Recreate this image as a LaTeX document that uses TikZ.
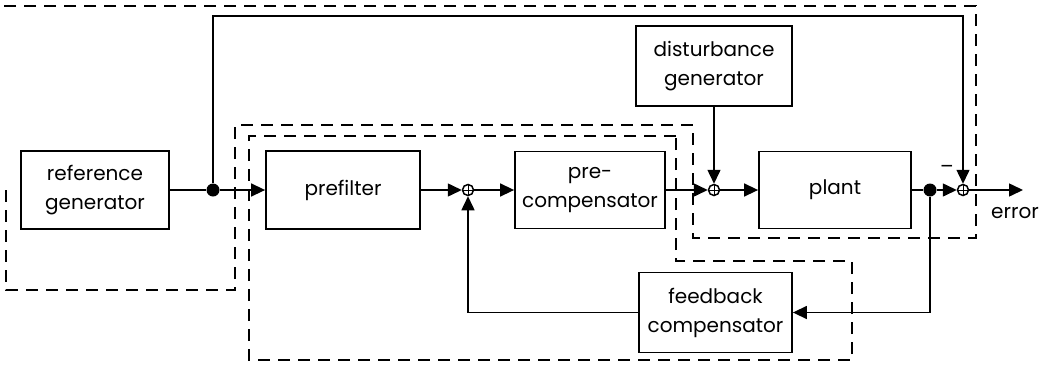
\documentclass[tikz,border=0pt]{standalone}
\usepackage{fontspec}
\setmainfont{Poppins}
\usetikzlibrary{arrows.meta}
\begin{document}
\begin{tikzpicture}[x=1pt,y=-1pt,
  blk/.style={draw,line width=1.8pt,minimum width=#1,align=center,inner sep=0pt,
    font=\fontsize{20}{29}\selectfont},
  blk/.default=150pt,
  sig/.style={line width=1.5pt},
  arr/.style={sig,-{Triangle[length=14pt,width=13pt]}},
  sumj/.style={circle,draw,line width=1.5pt,minimum size=11pt,inner sep=0pt,
    path picture={\draw[line width=1pt] (path picture bounding box.north) -- (path picture bounding box.south)
      (path picture bounding box.west) -- (path picture bounding box.east);}},
  dotj/.style={circle,fill,minimum size=13pt,inner sep=0pt},
  box/.style={dash pattern=on 12pt off 8pt,line width=1.7pt},
  lbl/.style={font=\fontsize{20}{29}\selectfont,inner sep=0pt}
]
\useasboundingbox (0,0) rectangle (1051,367);
% blocks
\node[blk=148pt,minimum height=78pt] (ref) at (95,190) {reference\\generator};
\node[blk=154pt,minimum height=78pt] (pre) at (343,190) {prefilter};
\node[blk=150pt,minimum height=77pt] (pc) at (590,190) {pre-\\compensator};
\node[blk=156pt,minimum height=80pt] (dist) at (714,66) {disturbance\\generator};
\node[blk=152pt,minimum height=77pt] (plant) at (835,190) {plant};
\node[blk=153pt,minimum height=80pt] (fb) at (715.5,312.5) {feedback\\compensator};
% junctions
\node[dotj] (d1) at (213,190) {};
\node[sumj] (s1) at (468,190) {};
\node[sumj] (s2) at (714,190) {};
\node[dotj] (d2) at (930,190) {};
\node[sumj] (s3) at (963,190) {};
\coordinate (out) at (1023,190);
\coordinate (t1) at (213,16);
\coordinate (t2) at (963,16);
\coordinate (f1) at (930,312.5);
\coordinate (f2) at (468,312.5);
% connectors
\draw[sig] (ref.east) -- (d1);
\draw[arr] (d1) -- (pre.west);
\draw[arr] (pre.east) -- (s1.west);
\draw[arr] (s1.east) -- (pc.west);
\draw[arr] (pc.east) -- (s2.west);
\draw[arr] (dist.south) -- (s2.north);
\draw[arr] (s2.east) -- (plant.west);
\draw[sig] (plant.east) -- (d2);
\draw[arr] (d2) -- (s3.west);
\draw[arr] (s3.east) -- (out);
\draw[arr] (d1) -- (t1) -- (t2) -- (s3.north);
\draw[arr] (d2) -- (f1) -- (fb.east);
\draw[arr] (fb.west) -- (f2) -- (s1.south);
% labels
\node[lbl] (err) at (1015,213) {error};
\node[lbl] (minus) at (947,169) {–};
% dashed boundaries
\draw[box] (6,190) -- (6,290) -- (235,290) -- (235,125) -- (693,125) -- (693,238) -- (976,238) -- (976,6) -- (0,6);
\draw[box] (676,136) -- (249,136) -- (249,360) -- (852,360) -- (852,261) -- (676,261) -- cycle;
\end{tikzpicture}
\end{document}
